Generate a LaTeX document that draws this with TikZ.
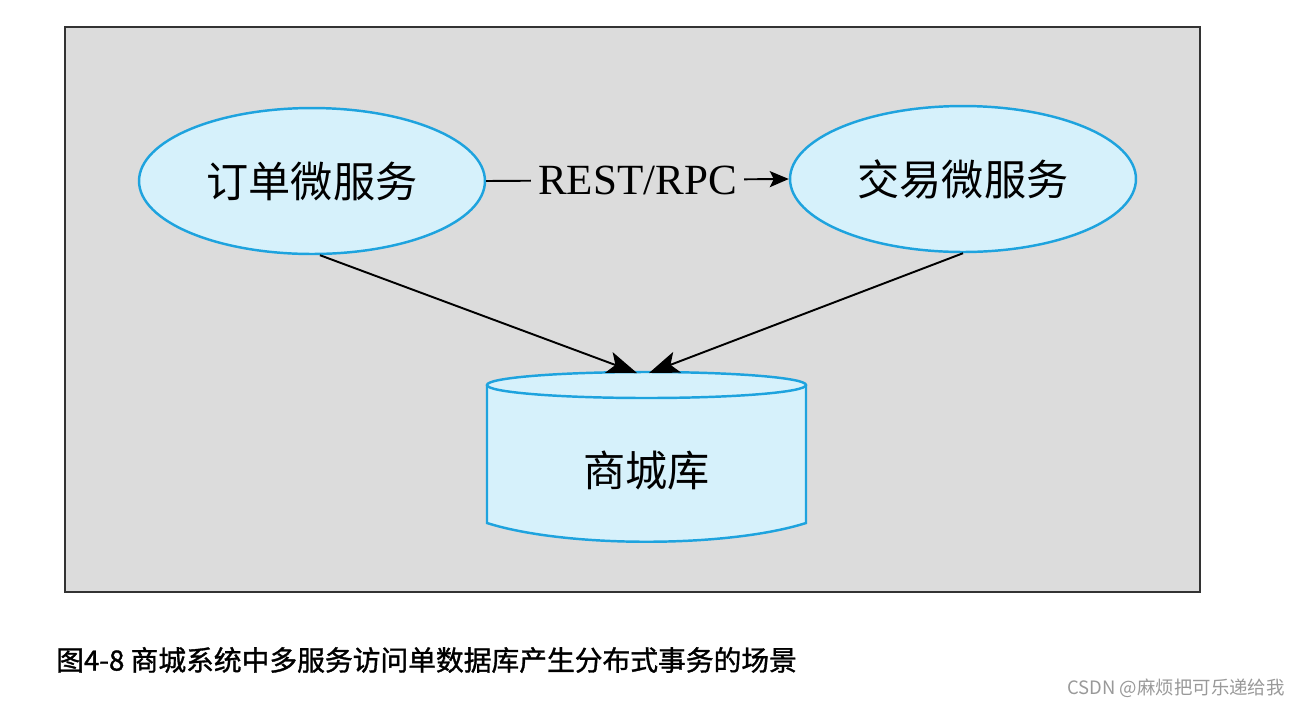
\documentclass[tikz,border=0pt]{standalone}
\usepackage{fontspec}
\setmainfont{Liberation Serif}
\newfontfamily\cjk{Noto Sans CJK SC}
\newfontfamily\cjkbold[FakeBold=1.2]{Noto Sans CJK SC}
\usetikzlibrary{arrows.meta,positioning,shapes.geometric}
\definecolor{panelgray}{HTML}{DCDCDC}
\definecolor{svcfill}{HTML}{D6F1FB}
\definecolor{svcline}{HTML}{1EA3DE}
\begin{document}
\begin{tikzpicture}[x=0.02cm, y=-0.02cm,
  svc/.style={draw=svcline, line width=1.4pt, fill=svcfill, ellipse, inner sep=0pt, minimum width=6.92cm, minimum height=2.92cm, font=\cjk\fontsize{24}{28}\selectfont},
  lbl/.style={fill=panelgray, inner sep=4pt, font=\fontsize{24.5}{28}\selectfont},
  link/.style={line width=1.1pt, -{Stealth[length=6mm,width=4.4mm,inset=1.4mm]}}]
\useasboundingbox (0,0) rectangle (1305,708);
\draw[fill=panelgray, draw=black!80, line width=1.3pt] (65,27) rectangle (1200,592);
\node[svc] (order) at (312,181) {订单微服务};
\node[svc] (trade) at (963,179) {交易微服务};
% database cylinder
\fill[svcfill] (487,385) -- (487,523) .. controls (566,548) and (727,548) .. (806,523) -- (806,385) arc[start angle=0, end angle=180, x radius=159.5, y radius=-13] -- cycle;
\draw[svcline, line width=1.4pt] (487,385) -- (487,523) .. controls (566,548) and (727,548) .. (806,523) -- (806,385);
\draw[svcline, line width=1.4pt] (646.5,385) ellipse[x radius=159.5, y radius=13];
\node[font=\cjk\fontsize{24}{28}\selectfont] (db) at (646.5,470) {商城库};
\coordinate (dbin1) at (637,373);
\coordinate (dbin2) at (649,373);
\draw[link] (order.south) ++(8,0) coordinate (from1) (from1) -- (dbin1);
\draw[link] (trade.south) coordinate (from2) (from2) -- (dbin2);
\draw[line width=1.1pt, -{Stealth[length=3.8mm,width=3.2mm,inset=0.8mm]}] (order.east) -- node[lbl] {REST/RPC} (trade.west);
% caption
\node[anchor=west, font=\cjkbold\fontsize{15.8}{19}\selectfont] (cap) at (50,660) {图4-8 商城系统中多服务访问单数据库产生分布式事务的场景};
\node[anchor=east, text=black!40, font=\cjk\fontsize{10.5}{12}\selectfont] (mark) at (1291,688) {CSDN @麻烦把可乐递给我};
\end{tikzpicture}
\end{document}
